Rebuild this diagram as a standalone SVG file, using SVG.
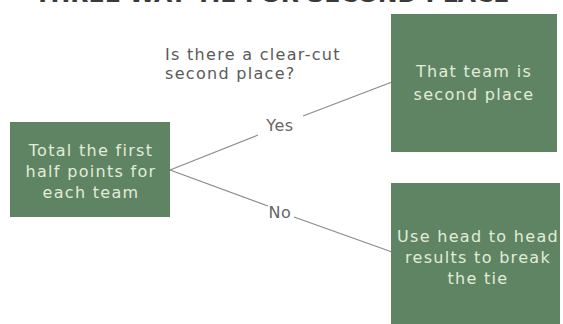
<svg xmlns="http://www.w3.org/2000/svg" width="563" height="324" viewBox="0 0 563 324">
<style>
.box{fill:#5f8463}
.bt{font-family:"DejaVu Sans",Verdana,sans-serif;font-size:16px;letter-spacing:1.3px;fill:#e2ecd9;text-anchor:middle}
.q{font-family:"DejaVu Sans",Verdana,sans-serif;font-size:16px;letter-spacing:1.3px;fill:#5a5a5a}
.lb{font-family:"DejaVu Sans",Verdana,sans-serif;font-size:16px;letter-spacing:0.5px;fill:#666;text-anchor:middle}
.ln{stroke:#8a8a8a;stroke-width:1.2;fill:none}
.title{font-family:"DejaVu Sans",Verdana,sans-serif;font-size:22px;font-weight:bold;fill:#3a3a3a;text-anchor:middle}
</style>
<rect width="563" height="324" fill="#ffffff"/>
<text class="title" x="272" y="2" textLength="475" lengthAdjust="spacingAndGlyphs">THREE WAY TIE FOR SECOND PLACE</text>
<g id="connectors">
<line class="ln" x1="170" y1="170" x2="258" y2="135"/>
<line class="ln" x1="303" y1="116" x2="392" y2="82"/>
<line class="ln" x1="170" y1="170" x2="268" y2="206"/>
<line class="ln" x1="294" y1="217" x2="392" y2="252"/>
<text class="lb" x="280" y="131">Yes</text>
<text class="lb" x="280" y="218">No</text>
</g>
<g id="question">
<text class="q" x="165" y="60">Is there a clear-cut</text>
<text class="q" x="165" y="79">second place?</text>
</g>
<g id="start">
<rect class="box" x="10" y="122" width="160" height="95"/>
<text class="bt" x="91" y="156">Total the first</text>
<text class="bt" x="91" y="177">half points for</text>
<text class="bt" x="91" y="198">each team</text>
</g>
<g id="yes-result">
<rect class="box" x="391" y="14" width="166" height="138"/>
<text class="bt" x="474" y="77">That team is</text>
<text class="bt" x="474" y="100">second place</text>
</g>
<g id="no-result">
<rect class="box" x="391" y="183" width="169" height="141"/>
<text class="bt" x="478" y="242">Use head to head</text>
<text class="bt" x="478" y="263">results to break</text>
<text class="bt" x="478" y="284">the tie</text>
</g>
</svg>
